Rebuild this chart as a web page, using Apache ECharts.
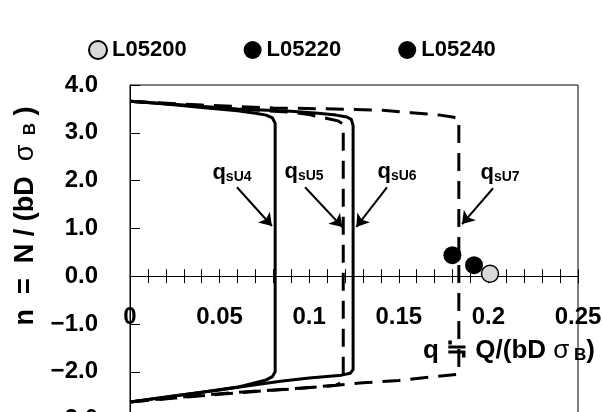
<!DOCTYPE html>
<html><head><meta charset="utf-8">
<script src="https://cdn.jsdelivr.net/npm/echarts@6/dist/echarts.min.js"></script>
<style>html,body{margin:0;padding:0;background:#fff}#c{width:603px;height:412px}</style>
</head><body><div id="c"></div>
<script>
const FONT = '"Liberation Sans", Arial, sans-serif';

// q-n interaction curves (q = Q/(bD sigma_B), n = N/(bD sigma_B))
const u4Q = [0, 0.02, 0.04, 0.06, 0.07, 0.076, 0.0795, 0.081, 0.081, 0.0795, 0.076, 0.06, 0.04, 0.02, 0];
const u4N = [3.66, 3.6, 3.53, 3.46, 3.41, 3.37, 3.31, 3.2, -2.0, -2.1, -2.17, -2.32, -2.43, -2.53, -2.63];

const u5Q = [0, 0.03, 0.06, 0.09, 0.1, 0.11, 0.116, 0.119, 0.119, 0.115, 0.1, 0.08, 0.06, 0.04, 0.02, 0];
const u5N = [3.66, 3.58, 3.5, 3.43, 3.38, 3.3, 3.25, 3.18, -2.2, -2.28, -2.33, -2.38, -2.43, -2.49, -2.56, -2.63];

const u6Q = [0, 0.03, 0.06, 0.09, 0.105, 0.115, 0.121, 0.1235, 0.1245, 0.1245, 0.123, 0.118, 0.1, 0.084, 0.07, 0.05, 0.025, 0];
const u6N = [3.66, 3.58, 3.5, 3.45, 3.41, 3.37, 3.33, 3.28, 3.15, -1.95, -2.03, -2.07, -2.13, -2.2, -2.27, -2.38, -2.5, -2.63];

const u7Q = [0, 0.04, 0.08, 0.1256, 0.141, 0.157, 0.173, 0.18, 0.1835, 0.1835, 0.17, 0.15, 0.13, 0.11, 0.09, 0.07, 0.05, 0.025, 0];
const u7N = [3.66, 3.58, 3.52, 3.49, 3.47, 3.42, 3.37, 3.33, 3.3, -2.05, -2.1, -2.18, -2.23, -2.3, -2.36, -2.41, -2.47, -2.55, -2.63];

// test specimens
const ptNames = ['L05200', 'L05220', 'L05240'];
const ptQ = [0.2009, 0.192, 0.1799];
const ptN = [0.05, 0.23, 0.44];

// annotations
const annoLabel = ['sU4', 'sU5', 'sU6', 'sU7'];
const annoQ = [0.0569, 0.0971, 0.149, 0.2065];
const annoN = [2.15, 2.18, 2.18, 2.15];
const arrFromQ = [0.0597, 0.0977, 0.1434, 0.2026];
const arrFromN = [1.86, 1.86, 1.86, 1.84];
const arrToQ = [0.0792, 0.1185, 0.1263, 0.1853];
const arrToN = [1.05, 1.03, 1.03, 1.09];

const zip = (a, b) => a.map((v, i) => [v, b[i]]);
const DASH = [18, 10];

// layout: plot box extends below the visible page (n axis runs to -4.0)
const GRID_TOP = 85, GRID_H = 382.4, N_MIN = -4, N_MAX = 4;
const ZERO_OFFSET = -(GRID_H * (0 - N_MIN) / (N_MAX - N_MIN)); // lift q axis onto n = 0

function curve(q, n, dashed) {
  return {
    type: 'line', data: zip(q, n), showSymbol: false, symbol: 'none', silent: true,
    lineStyle: { color: '#000', width: 3, type: dashed ? DASH : 'solid', cap: 'butt', join: 'round' },
    z: 2
  };
}

const series = [
  curve(u4Q, u4N, false),
  curve(u5Q, u5N, true),
  curve(u6Q, u6N, false),
  curve(u7Q, u7N, true),
  {
    name: ptNames[0], type: 'scatter', symbol: 'circle', symbolSize: 17, z: 5,
    data: [[ptQ[0], ptN[0]]],
    itemStyle: { color: '#d9d9d9', borderColor: '#000', borderWidth: 1.5, opacity: 1 }
  },
  {
    name: ptNames[1], type: 'scatter', symbol: 'circle', symbolSize: 18, z: 5,
    data: [[ptQ[1], ptN[1]]],
    itemStyle: { color: '#000', opacity: 1 }
  },
  {
    name: ptNames[2], type: 'scatter', symbol: 'circle', symbolSize: 18, z: 5,
    data: [[ptQ[2], ptN[2]]],
    itemStyle: { color: '#000', opacity: 1 }
  },
  {
    type: 'scatter', symbolSize: 0, silent: true, z: 6,
    itemStyle: { color: '#000', opacity: 1 },
    data: annoQ.map((q, i) => ({ value: [q, annoN[i]], sub: annoLabel[i] })),
    label: {
      show: true, position: 'inside', color: '#000',
      formatter: p => '{q|q}{s|' + p.data.sub + '}',
      rich: {
        q: { fontFamily: FONT, fontWeight: 'bold', fontSize: 22, color: '#000', verticalAlign: 'bottom', lineHeight: 22 },
        s: { fontFamily: FONT, fontWeight: 'bold', fontSize: 14, color: '#000', verticalAlign: 'bottom', lineHeight: 16 }
      }
    },
    markLine: {
      silent: true, symbol: ['none', 'arrow'], symbolSize: 12,
      label: { show: false },
      itemStyle: { color: '#000' },
      lineStyle: { color: '#000', width: 2, type: 'solid', opacity: 1 },
      data: arrFromQ.map((q, i) => [{ coord: [q, arrFromN[i]] }, { coord: [arrToQ[i], arrToN[i]] }])
    }
  }
];

const chart = echarts.init(document.getElementById('c'), null, { renderer: 'canvas' });
chart.setOption({
  animation: false,
  backgroundColor: '#fff',
  legend: {
    data: ptNames, top: 34, left: 83, itemGap: 57, itemWidth: 18, itemHeight: 18, icon: 'circle',
    textStyle: { fontFamily: FONT, fontWeight: 'bold', fontSize: 22, color: '#000' }
  },
  grid: { left: 130, top: GRID_TOP, width: 448, height: GRID_H, show: true, borderColor: '#000', borderWidth: 1, containLabel: false, outerBoundsMode: 'none' },
  xAxis: [
    {
      type: 'value', min: 0, max: 0.25, interval: 0.05, position: 'bottom', offset: ZERO_OFFSET,
      axisLine: { onZero: false, lineStyle: { color: '#000', width: 1 } },
      axisTick: { show: true, inside: false, length: 7, lineStyle: { color: '#000' } },
      minorTick: { show: true, splitNumber: 5, length: 7, lineStyle: { color: '#000' } },
      axisLabel: { margin: 29, fontFamily: FONT, fontWeight: 'bold', fontSize: 24, color: '#000' },
      splitLine: { show: false }, minorSplitLine: { show: false }
    },
    {
      type: 'value', min: 0, max: 0.25, interval: 0.05, position: 'bottom', offset: ZERO_OFFSET,
      axisLine: { onZero: false, lineStyle: { color: '#000', width: 1 } },
      axisTick: { show: true, inside: true, length: 7, lineStyle: { color: '#000' } },
      minorTick: { show: true, splitNumber: 5, length: 7, lineStyle: { color: '#000' } },
      axisLabel: { show: false },
      splitLine: { show: false }
    }
  ],
  yAxis: {
    type: 'value', min: N_MIN, max: N_MAX, interval: 1,
    axisLine: { show: true, onZero: false, lineStyle: { color: '#000', width: 1 } },
    axisTick: { show: true, inside: true, length: 10, lineStyle: { color: '#000' } },
    axisLabel: {
      margin: 32, fontFamily: FONT, fontWeight: 'bold', fontSize: 24, color: '#000',
      formatter: v => (v < 0 ? '\u2212' : '') + Math.abs(v).toFixed(1)
    },
    splitLine: { show: false }
  },
  graphic: [
    {
      type: 'text', x: 25, y: 216, rotation: Math.PI / 2, z: 10,
      style: {
        text: '{m|n  =  N / (bD  }{g|\u03c3}{s|  B}{m| )}',
        align: 'center', verticalAlign: 'middle', textAlign: 'center', textVerticalAlign: 'middle',
        rich: {
          m: { fontFamily: FONT, fontWeight: 'bold', fontSize: 27, fill: '#000', color: '#000', verticalAlign: 'bottom', lineHeight: 28 },
          g: { fontFamily: FONT, fontSize: 27, fill: '#000', color: '#000', verticalAlign: 'bottom', lineHeight: 28 },
          s: { fontFamily: FONT, fontWeight: 'bold', fontSize: 17, fill: '#000', color: '#000', verticalAlign: 'bottom', lineHeight: 22 }
        }
      }
    },
    {
      type: 'text', x: 423, y: 350, z: 10,
      style: {
        text: '{m|q \u2252 Q/(bD }{g|\u03c3}{s| B}{m|)}',
        align: 'left', verticalAlign: 'middle', textAlign: 'left', textVerticalAlign: 'middle',
        rich: {
          m: { fontFamily: FONT, fontWeight: 'bold', fontSize: 26, fill: '#000', color: '#000', verticalAlign: 'bottom', lineHeight: 28 },
          g: { fontFamily: FONT, fontSize: 26, fill: '#000', color: '#000', verticalAlign: 'bottom', lineHeight: 28 },
          s: { fontFamily: FONT, fontWeight: 'bold', fontSize: 17, fill: '#000', color: '#000', verticalAlign: 'bottom', lineHeight: 22 }
        }
      }
    }
  ],
  series: series
});
</script>
</body></html>
